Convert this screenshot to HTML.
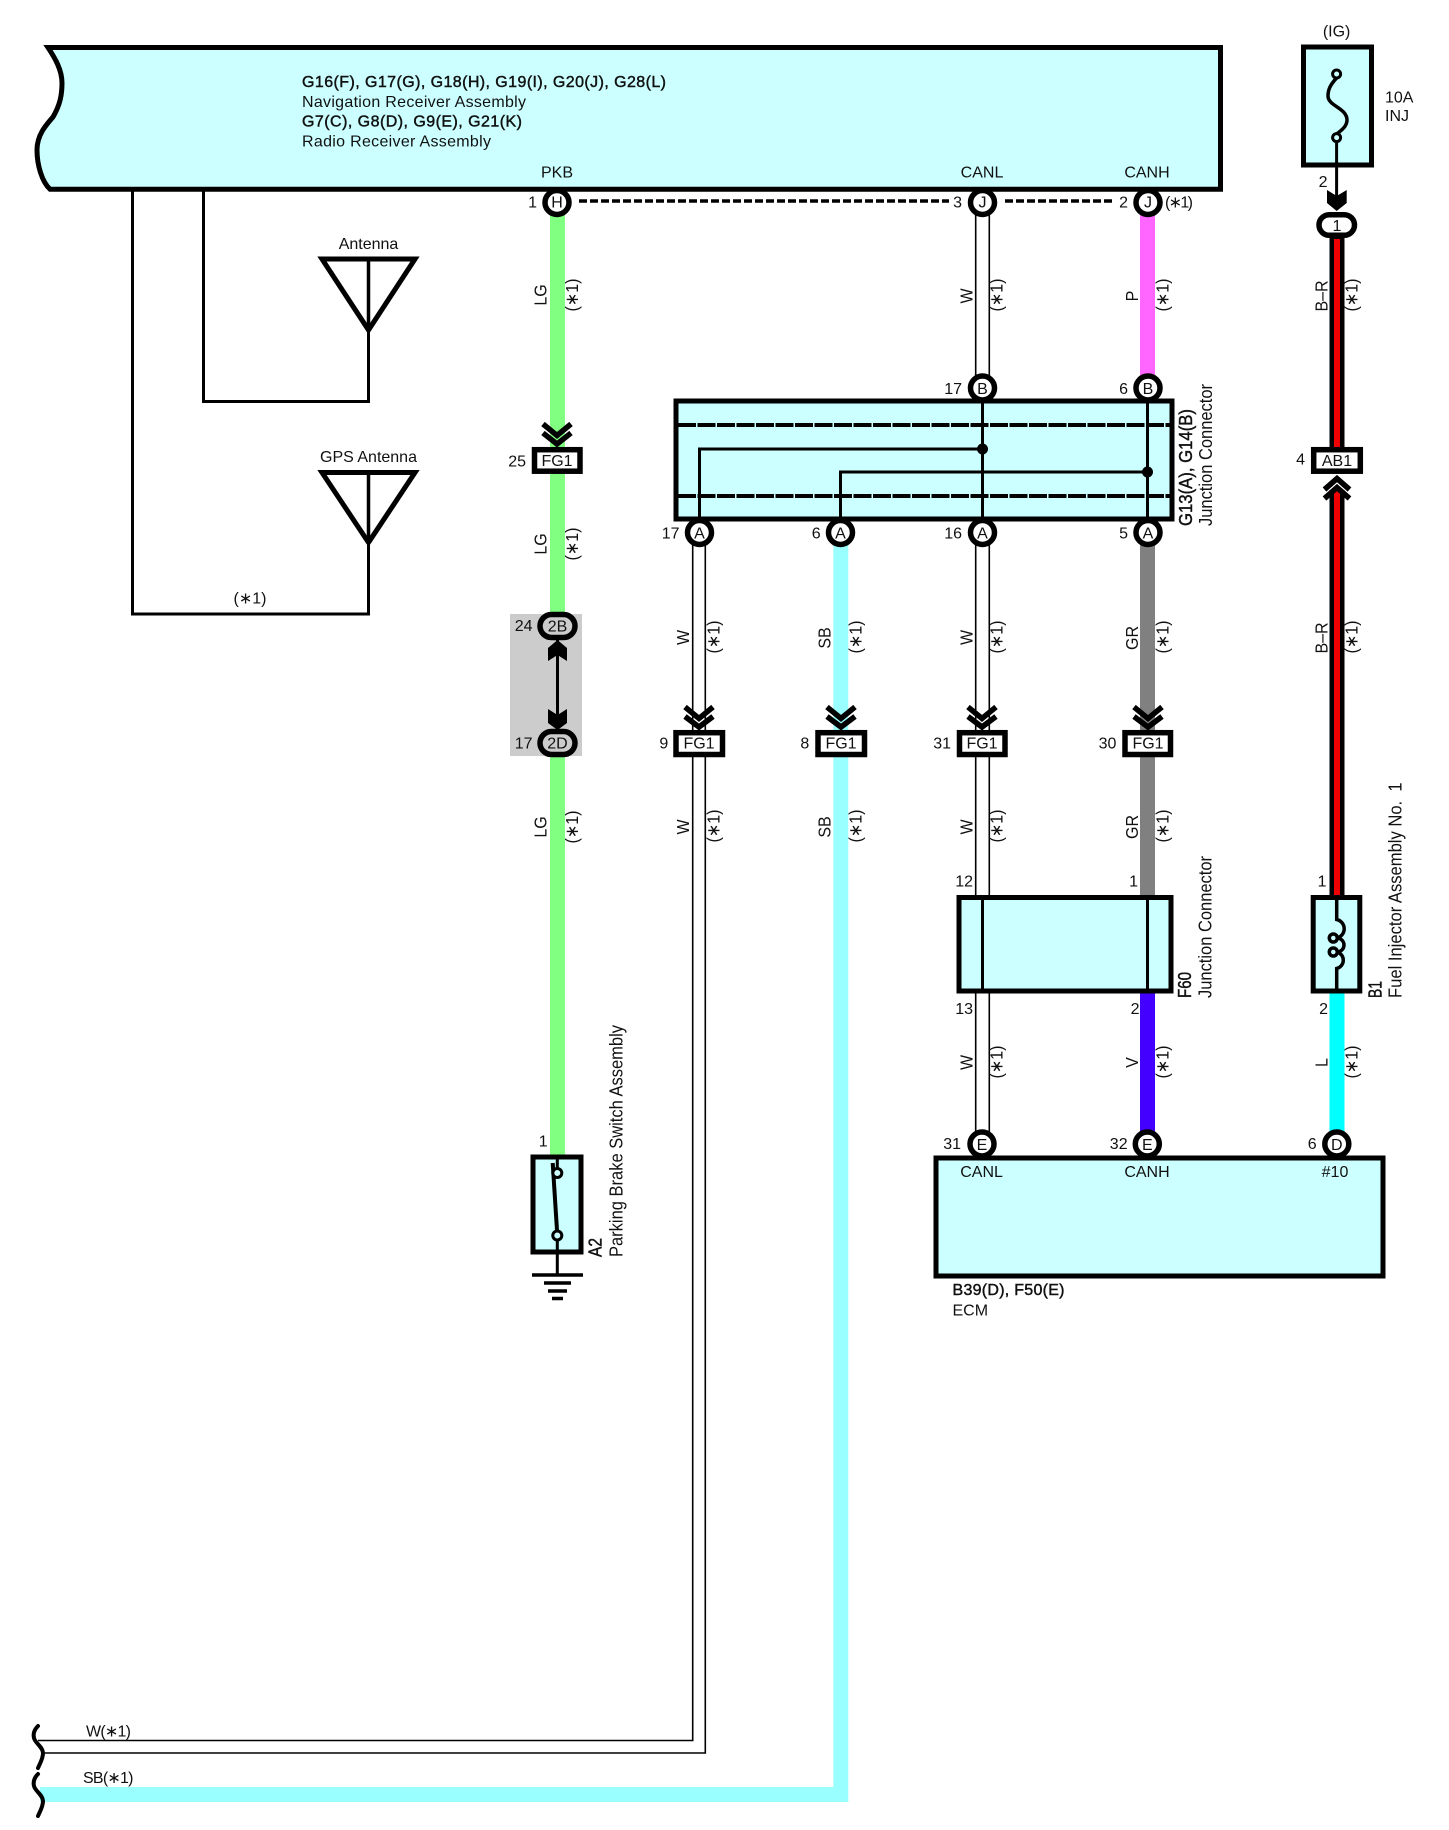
<!DOCTYPE html>
<html><head><meta charset="utf-8"><style>
html,body{margin:0;padding:0;background:#fff}
svg{display:block}
text{font-family:"Liberation Sans",Arial,sans-serif;font-size:16px;fill:#111}
.m{text-anchor:middle}
.e{text-anchor:end}
.b{stroke:#111;stroke-width:.45}
.k{fill:none;stroke:#000}
.r text,text.r{font-size:18px}
</style></head><body>
<svg width="1449" height="1830" viewBox="0 0 1449 1830" xmlns="http://www.w3.org/2000/svg">
<rect width="1449" height="1830" fill="#fff"/>

<!-- left wires -->
<g class="k" stroke-width="3">
<polyline class="k" points="203.5,189 203.5,401.5 368.5,401.5 368.5,330"/>
<polyline class="k" points="132.5,189 132.5,614 368.5,614 368.5,542"/>
</g>
<!-- top box -->
<path d="M48 47.5H1220.5V189.2H50C42 182 37 165 37 150C37 135 46 125 53 117C60 105 62 95 62 83C62 70 55 58 48 47.5Z" fill="#ccffff" stroke="#000" stroke-width="5" stroke-linejoin="miter"/>
<!-- antennas -->
<g class="k" stroke-width="5" fill="none">
<path d="M322 259H415L368.5 330Z" fill="none" stroke="#000"/>
<path d="M322 472.5H415L368.5 542.5Z" fill="none" stroke="#000"/>
</g>
<line x1="368.5" y1="259" x2="368.5" y2="330" stroke="#000" stroke-width="3.5"/>
<line x1="368.5" y1="472" x2="368.5" y2="542" stroke="#000" stroke-width="3.5"/>

<!-- gray box -->
<rect x="510" y="614" width="72" height="142" fill="#cccccc"/>

<!-- coloured wires -->
<g fill="#80ff80">
<rect x="550" y="201" width="15" height="246"/>
<rect x="550" y="474" width="15" height="140"/>
<rect x="550" y="755" width="15" height="400"/>
</g>
<rect x="1140" y="201" width="15" height="188" fill="#ff66ff"/>
<rect x="1140" y="532" width="15" height="198" fill="#808080"/>
<rect x="1140" y="757" width="15" height="138" fill="#808080"/>
<rect x="1140" y="993" width="15" height="151" fill="#4400ff"/>
<rect x="1329.5" y="993" width="15" height="151" fill="#00ffff"/>
<path d="M833.3 532H848.3V730H833.3ZM833.3 757H848.3V1802H40V1787H833.3Z" fill="#99ffff"/>

<!-- B-R wire -->
<rect x="1329.5" y="235" width="15" height="212" fill="#000"/>
<rect x="1334" y="239" width="6" height="208" fill="#f00000"/>
<rect x="1329.5" y="490" width="15" height="405" fill="#000"/>
<rect x="1334" y="490" width="6" height="405" fill="#f00000"/>

<!-- white (W) wires -->
<g stroke="#000" stroke-width="1.6" fill="none">
<path d="M975.7 201V389M989.3 201V389"/>
<path d="M975.7 532V730M989.3 532V730M975.7 757V895M989.3 757V895M975.7 993V1144M989.3 993V1144"/>
<path d="M692.7 532V730M705.3 532V730"/>
<path d="M692.7 757V1740.5H38M705.3 757V1753H42"/>
</g>

<!-- junction box -->
<rect x="676" y="401" width="496" height="118" fill="#ccffff" stroke="#000" stroke-width="5"/>
<g stroke="#000" stroke-width="4" stroke-dasharray="18 1.5" fill="none">
<line x1="678" y1="425" x2="1170" y2="425"/>
<line x1="678" y1="496" x2="1170" y2="496"/>
</g>
<g stroke="#000" stroke-width="3" fill="none">
<polyline points="699.5,519 699.5,449 982.5,449"/>
<polyline points="840.5,519 840.5,472 1148,472"/>
<line x1="982.5" y1="389" x2="982.5" y2="532"/>
<line x1="1147.5" y1="389" x2="1147.5" y2="532"/>
</g>
<circle cx="982.5" cy="449" r="5.5" fill="#000"/>
<circle cx="1147.5" cy="472" r="5.5" fill="#000"/>

<!-- F60 box -->
<rect x="959" y="897.5" width="212" height="93.5" fill="#ccffff" stroke="#000" stroke-width="5"/>
<g stroke="#000" stroke-width="3"><line x1="982.5" y1="897" x2="982.5" y2="991"/><line x1="1147.5" y1="897" x2="1147.5" y2="991"/></g>

<!-- injector -->
<rect x="1313.2" y="897.5" width="46.6" height="93.5" fill="#ccffff" stroke="#000" stroke-width="5"/>
<path d="M1336.7 897V919.5A9.5 9.5 0 0 1 1337 938A7 7 0 0 1 1337 952A8.5 8.5 0 0 1 1336.7 968.5V991" fill="none" stroke="#000" stroke-width="3.5"/>
<circle cx="1333.3" cy="938" r="4" fill="none" stroke="#000" stroke-width="3.5"/>
<circle cx="1333.3" cy="952" r="4" fill="none" stroke="#000" stroke-width="3.5"/>

<!-- ECM box -->
<rect x="936" y="1158" width="447" height="118" fill="#ccffff" stroke="#000" stroke-width="5"/>

<!-- A2 switch -->
<rect x="533" y="1157" width="48" height="95" fill="#ccffff" stroke="#000" stroke-width="5"/>
<line x1="557.3" y1="1155" x2="557.3" y2="1172" stroke="#000" stroke-width="3"/>
<line x1="552.7" y1="1163" x2="557.3" y2="1235" stroke="#000" stroke-width="4"/>
<circle cx="557.3" cy="1173" r="4.5" fill="#ccffff" stroke="#000" stroke-width="3"/>
<circle cx="557.3" cy="1235.5" r="4.5" fill="#ccffff" stroke="#000" stroke-width="3"/>
<line x1="557.3" y1="1240" x2="557.3" y2="1275" stroke="#000" stroke-width="3"/>
<g stroke="#000" stroke-width="3.5">
<line x1="532" y1="1275" x2="583" y2="1275"/>
<line x1="544" y1="1283" x2="571" y2="1283"/>
<line x1="548" y1="1291" x2="567" y2="1291"/>
<line x1="552" y1="1298.5" x2="563" y2="1298.5"/>
</g>

<!-- fuse box -->
<rect x="1303.5" y="47" width="68" height="118" fill="#ccffff" stroke="#000" stroke-width="5"/>
<path d="M1336.6 78C1330 85 1328 90 1328 96C1328 106 1347 108 1347 120C1347 126 1342 130 1336.6 134" fill="none" stroke="#000" stroke-width="3.5"/>
<circle cx="1336.6" cy="74" r="4" fill="#ccffff" stroke="#000" stroke-width="3"/>
<circle cx="1336.6" cy="137.6" r="4" fill="#ccffff" stroke="#000" stroke-width="3"/>
<line x1="1336.6" y1="142" x2="1336.6" y2="200" stroke="#000" stroke-width="3"/>
<polygon points="1327,190 1336.7,196 1346.7,190 1346.7,203 1336.7,211 1327,203" fill="#000"/>
<rect x="1319" y="214.7" width="35.5" height="20.6" rx="10.3" fill="#fff" stroke="#000" stroke-width="5.5"/>

<!-- dashed line -->
<g stroke="#000" stroke-width="3.5" stroke-dasharray="8 3">
<line x1="579" y1="201" x2="949" y2="201"/>
<line x1="1005" y1="201" x2="1114" y2="201"/>
</g>

<!-- gray-box ovals and arrows -->
<line x1="557.5" y1="640" x2="557.5" y2="730" stroke="#000" stroke-width="3"/>
<polygon points="557.5,640 548,648 548,661 557.5,655 567,661 567,648" fill="#000"/>
<polygon points="548,709 557.5,715 567,709 567,723 557.5,730 548,723" fill="#000"/>
<rect x="540" y="614.5" width="35" height="23" rx="11.5" fill="#cccccc" stroke="#000" stroke-width="5.5"/>
<rect x="540" y="731.5" width="35" height="23" rx="11.5" fill="#cccccc" stroke="#000" stroke-width="5.5"/>

<!-- round connectors -->
<g fill="#fff" stroke="#000" stroke-width="5.5">
<circle cx="557" cy="202.5" r="12"/>
<circle cx="982.5" cy="202.5" r="12"/>
<circle cx="1148" cy="202.5" r="12"/>
<circle cx="982.5" cy="388" r="12"/>
<circle cx="1148" cy="388" r="12"/>
<circle cx="699.5" cy="532.5" r="12"/>
<circle cx="840.5" cy="532.5" r="12"/>
<circle cx="982.5" cy="532.5" r="12"/>
<circle cx="1148" cy="532.5" r="12"/>
<circle cx="982" cy="1144" r="12"/>
<circle cx="1147.3" cy="1144" r="12"/>
<circle cx="1336.8" cy="1144" r="12"/>
</g>

<!-- FG1 connectors -->
<g fill="#fff" stroke="#000" stroke-width="5.5">
<rect x="534.5" y="449.7" width="45.5" height="21.5"/>
<rect x="676" y="732.7" width="46.5" height="21.8"/>
<rect x="818" y="732.7" width="46.5" height="21.8"/>
<rect x="959.5" y="732.7" width="45.5" height="21.8"/>
<rect x="1125" y="732.7" width="45.5" height="21.8"/>
<rect x="1313.7" y="449.7" width="46.6" height="21.5"/>
</g>

<!-- chevrons -->
<g fill="none" stroke="#000" stroke-width="5.5" stroke-miterlimit="6">
<path d="M543 424L557 435.5L571 424M543 433L557 444L571 433"/>
<path d="M685 707L699 718.5L713 707M685 716.5L699 727L713 716.5"/>
<path d="M827 707L841 718.5L855 707M827 716.5L841 727L855 716.5"/>
<path d="M968 707L982 718.5L996 707M968 716.5L982 727L996 716.5"/>
<path d="M1134 707L1148 718.5L1162 707M1134 716.5L1148 727L1162 716.5"/>
<path d="M1324.5 498.5L1337 487.5L1349.5 498.5M1324.5 489.5L1337 478.5L1349.5 489.5"/>
</g>

<!-- bottom-left break marks -->
<g fill="none" stroke="#000" stroke-width="4" stroke-linecap="round">
<path d="M38 1726C34 1730 33 1734 34 1738C35 1743 43 1747 43 1753C43 1759 40 1763 38 1768"/>
<path d="M38 1774C34 1778 33 1782 34 1786C35 1791 43 1795 43 1801C43 1807 40 1811 38 1816"/>
</g>

<!-- box labels -->
<text class="b" x="302" y="87" textLength="364">G16(F), G17(G), G18(H), G19(I), G20(J), G28(L)</text>
<text x="302" y="107" textLength="224">Navigation Receiver Assembly</text>
<text class="b" x="302" y="126.5" textLength="220">G7(C), G8(D), G9(E), G21(K)</text>
<text x="302" y="146.5" textLength="189">Radio Receiver Assembly</text>
<text class="m" x="557" y="177.5">PKB</text>
<text class="m" x="982" y="177.5">CANL</text>
<text class="m" x="1147" y="177.5">CANH</text>
<text class="m" x="368.5" y="249">Antenna</text>
<text class="m" x="368.5" y="462">GPS Antenna</text>
<text class="m" x="250" y="603.5">(∗1)</text>
<text class="m" x="1336.6" y="36.5">(IG)</text>
<text x="1385" y="102.5">10A</text>
<text x="1385" y="121">INJ</text>
<text x="1165" y="207.5" textLength="28">(∗1)</text>
<text x="86" y="1736.5" textLength="45">W(∗1)</text>
<text x="83" y="1783" textLength="50.5">SB(∗1)</text>
<text class="b" x="952.5" y="1295" textLength="112">B39(D), F50(E)</text>
<text x="952.5" y="1315.5">ECM</text>
<text class="m" x="981.6" y="1177">CANL</text>
<text class="m" x="1147" y="1177">CANH</text>
<text class="m" x="1335" y="1177">#10</text>

<!-- connector letters -->
<g text-anchor="middle">
<text x="557" y="207.5">H</text><text x="982.5" y="207.5">J</text><text x="1148" y="207.5">J</text>
<text x="982.5" y="394">B</text><text x="1148" y="394">B</text>
<text x="699.5" y="538.5">A</text><text x="840.5" y="538.5">A</text><text x="982.5" y="538.5">A</text><text x="1148" y="538.5">A</text>
<text x="982" y="1150">E</text><text x="1147.3" y="1150">E</text><text x="1336.8" y="1150">D</text>
<text x="557.5" y="631.5">2B</text><text x="557.5" y="748.5">2D</text>
<text x="1337" y="231">1</text>
<text x="557" y="466">FG1</text><text x="699" y="748.5">FG1</text><text x="841" y="748.5">FG1</text><text x="982" y="748.5">FG1</text><text x="1148" y="748.5">FG1</text>
<text x="1337" y="466">AB1</text>
</g>

<!-- pin numbers -->
<g text-anchor="end">
<text x="537" y="207.5">1</text><text x="962" y="207.5">3</text><text x="1128" y="207.5">2</text>
<text x="1327.5" y="187">2</text>
<text x="962" y="394">17</text><text x="1128" y="394">6</text>
<text x="526" y="466.5">25</text><text x="1305" y="464.5">4</text>
<text x="679.5" y="538.5">17</text><text x="820.7" y="538.5">6</text><text x="962" y="538.5">16</text><text x="1128" y="538.5">5</text>
<text x="532.5" y="631">24</text><text x="532.5" y="748.5">17</text>
<text x="668.3" y="748.5">9</text><text x="809.3" y="748.5">8</text><text x="951" y="748.5">31</text><text x="1116.4" y="748.5">30</text>
<text x="973" y="886.5">12</text><text x="1138" y="886.5">1</text><text x="1326.5" y="886.5">1</text>
<text x="973" y="1014">13</text><text x="1139.5" y="1014">2</text><text x="1328" y="1014">2</text>
<text x="547.7" y="1146.5">1</text>
<text x="961" y="1149">31</text><text x="1127.6" y="1149">32</text><text x="1316.7" y="1149">6</text>
</g>

<!-- rotated wire labels -->
<g class="r" text-anchor="middle">
<text transform="translate(546.5,295) rotate(-90) scale(.89,1)">LG</text><text transform="translate(578,295) rotate(-90) scale(.89,1)">(∗1)</text>
<text transform="translate(546.5,544) rotate(-90) scale(.89,1)">LG</text><text transform="translate(578,544) rotate(-90) scale(.89,1)">(∗1)</text>
<text transform="translate(546.5,827) rotate(-90) scale(.89,1)">LG</text><text transform="translate(578,827) rotate(-90) scale(.89,1)">(∗1)</text>
<text transform="translate(972.5,296) rotate(-90) scale(.89,1)">W</text><text transform="translate(1002.5,295) rotate(-90) scale(.89,1)">(∗1)</text>
<text transform="translate(1138,296) rotate(-90) scale(.89,1)">P</text><text transform="translate(1168.5,295) rotate(-90) scale(.89,1)">(∗1)</text>
<text transform="translate(1327.5,296) rotate(-90) scale(.89,1)">B–R</text><text transform="translate(1357.5,295) rotate(-90) scale(.89,1)">(∗1)</text>
<text transform="translate(689,637.5) rotate(-90) scale(.89,1)">W</text><text transform="translate(719.5,637) rotate(-90) scale(.89,1)">(∗1)</text>
<text transform="translate(830.5,638) rotate(-90) scale(.89,1)">SB</text><text transform="translate(861.5,637) rotate(-90) scale(.89,1)">(∗1)</text>
<text transform="translate(972.5,637.5) rotate(-90) scale(.89,1)">W</text><text transform="translate(1002.5,637) rotate(-90) scale(.89,1)">(∗1)</text>
<text transform="translate(1138,638) rotate(-90) scale(.89,1)">GR</text><text transform="translate(1168.5,637) rotate(-90) scale(.89,1)">(∗1)</text>
<text transform="translate(1327.5,638) rotate(-90) scale(.89,1)">B–R</text><text transform="translate(1357.5,637) rotate(-90) scale(.89,1)">(∗1)</text>
<text transform="translate(689,827) rotate(-90) scale(.89,1)">W</text><text transform="translate(719.5,826) rotate(-90) scale(.89,1)">(∗1)</text>
<text transform="translate(830.5,827) rotate(-90) scale(.89,1)">SB</text><text transform="translate(861.5,826) rotate(-90) scale(.89,1)">(∗1)</text>
<text transform="translate(972.5,827) rotate(-90) scale(.89,1)">W</text><text transform="translate(1002.5,826) rotate(-90) scale(.89,1)">(∗1)</text>
<text transform="translate(1138,827) rotate(-90) scale(.89,1)">GR</text><text transform="translate(1168.5,826) rotate(-90) scale(.89,1)">(∗1)</text>
<text transform="translate(972.5,1062.5) rotate(-90) scale(.89,1)">W</text><text transform="translate(1002.5,1062) rotate(-90) scale(.89,1)">(∗1)</text>
<text transform="translate(1138,1062.5) rotate(-90) scale(.89,1)">V</text><text transform="translate(1168.5,1062) rotate(-90) scale(.89,1)">(∗1)</text>
<text transform="translate(1327.5,1062.5) rotate(-90) scale(.89,1)">L</text><text transform="translate(1357.5,1062) rotate(-90) scale(.89,1)">(∗1)</text>
</g>

<!-- rotated component labels -->
<g class="r">
<text class="b" transform="translate(1192,526) rotate(-90)" textLength="117" lengthAdjust="spacingAndGlyphs">G13(A), G14(B)</text>
<text transform="translate(1212,526) rotate(-90)" textLength="142" lengthAdjust="spacingAndGlyphs">Junction Connector</text>
<text class="b" transform="translate(1191,998) rotate(-90)" textLength="26" lengthAdjust="spacingAndGlyphs">F60</text>
<text transform="translate(1211.6,998) rotate(-90)" textLength="142" lengthAdjust="spacingAndGlyphs">Junction Connector</text>
<text class="b" transform="translate(1381.5,998) rotate(-90)" textLength="17" lengthAdjust="spacingAndGlyphs">B1</text>
<text transform="translate(1401.4,998) rotate(-90)" textLength="215.6" lengthAdjust="spacingAndGlyphs" xml:space="preserve">Fuel Injector Assembly No.  1</text>
<text class="b" transform="translate(601.7,1257) rotate(-90)" textLength="19" lengthAdjust="spacingAndGlyphs">A2</text>
<text transform="translate(622.7,1257) rotate(-90)" textLength="232" lengthAdjust="spacingAndGlyphs">Parking Brake Switch Assembly</text>
</g>
</svg>
</body></html>
